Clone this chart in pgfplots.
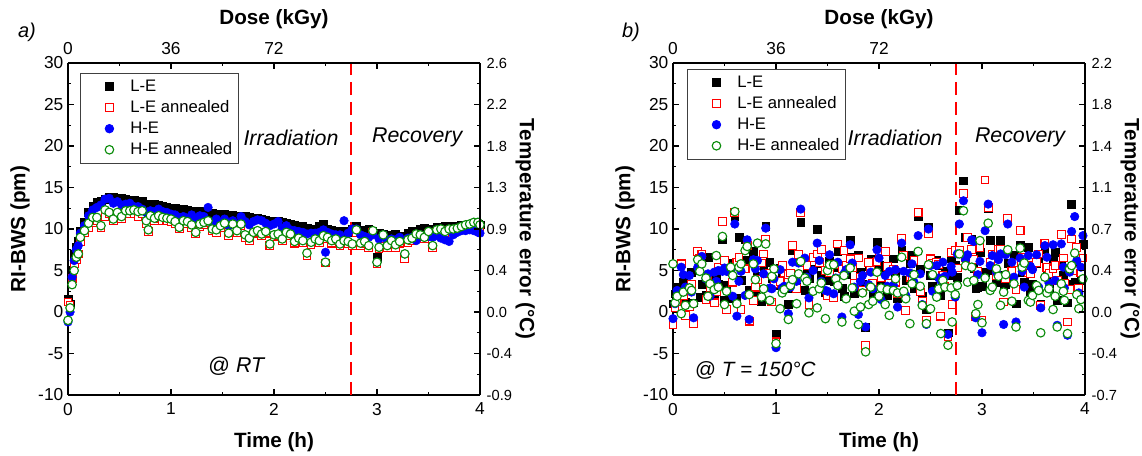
\documentclass[border=0pt]{standalone}
\usepackage{fontspec}
\setmainfont{Liberation Sans}
\usepackage{pgfplots}
\usepackage{pgfplotstable}
\pgfplotsset{compat=1.18}

\definecolor{hegreen}{RGB}{10,140,10}
\definecolor{lered}{RGB}{255,0,0}

% panel a: room temperature
\pgfplotstableread{
t LE LEa HE HEa
0.00 1.5 1.2 -1.2 -1.0
0.02 1.0 0.8 0.0 0.5
0.04 5.0 4.0 4.2 3.3
0.06 7.0 5.8 6.2 5.0
0.08 7.8 6.3 7.5 6.6
0.10 8.5 7.0 8.0 7.0
0.12 9.8 8.5 9.5 9.0
0.16 10.8 9.6 10.4 9.8
0.20 12.0 10.2 11.6 10.7
0.24 12.8 10.8 12.3 11.4
0.28 13.2 11.0 12.6 11.4
0.32 13.4 10.2 12.9 10.4
0.36 13.6 11.5 13.6 12.3
0.40 13.8 11.8 13.7 12.0
0.44 13.8 11.0 13.1 11.2
0.48 13.7 11.8 13.3 12.0
0.52 13.7 11.2 12.9 11.5
0.56 13.6 11.9 13.0 12.2
0.60 13.5 11.9 13.1 12.2
0.64 13.5 11.8 12.7 12.3
0.68 13.4 11.5 12.7 12.1
0.72 13.3 11.8 12.4 12.2
0.76 13.0 10.6 12.0 11.0
0.78 12.8 9.7 11.6 9.9
0.80 13.0 11.4 12.2 11.6
0.84 13.0 11.0 12.1 11.3
0.88 12.9 11.3 12.4 11.6
0.92 12.8 11.0 12.1 11.4
0.96 12.6 11.0 12.0 11.3
1.00 12.5 10.9 11.8 11.2
1.04 12.5 10.6 11.7 10.9
1.08 12.4 10.0 11.4 10.2
1.12 12.4 10.8 11.5 11.0
1.16 12.3 10.7 11.2 10.9
1.20 12.2 10.2 11.7 10.5
1.24 12.1 9.4 11.3 9.6
1.28 12.1 10.3 11.6 10.6
1.32 12.0 10.5 11.5 10.8
1.36 11.9 10.8 12.6 11.0
1.40 11.9 9.8 10.7 10.0
1.44 11.8 9.6 11.2 9.9
1.48 11.8 10.2 10.8 10.4
1.52 11.8 10.5 11.2 10.7
1.56 11.7 9.2 10.4 9.5
1.60 11.7 10.3 11.0 10.6
1.64 11.6 9.6 10.6 9.8
1.68 11.6 10.4 11.5 10.6
1.72 11.5 9.0 10.9 9.3
1.76 11.4 8.6 10.5 8.9
1.80 11.3 9.4 10.9 9.6
1.84 11.3 9.6 11.1 9.8
1.88 11.2 9.2 11.0 9.4
1.92 11.1 9.5 10.7 9.7
1.96 11.0 8.0 10.4 8.2
2.00 11.0 9.1 10.6 9.3
2.04 10.9 9.2 10.9 9.4
2.08 10.8 8.6 10.1 8.8
2.12 10.7 9.4 10.4 9.6
2.16 10.6 9.2 9.9 9.4
2.20 10.5 8.3 9.8 8.5
2.24 10.4 8.6 9.7 8.9
2.28 10.3 8.4 9.6 8.6
2.32 10.1 6.8 9.4 7.1
2.36 10.0 8.1 9.5 8.4
2.40 10.0 8.5 9.5 8.8
2.44 10.3 8.4 9.6 8.6
2.48 10.6 9.0 9.9 9.2
2.50 9.8 5.9 7.2 6.0
2.52 10.0 8.8 9.6 9.0
2.56 9.9 8.3 9.4 8.6
2.60 9.8 8.6 9.3 8.8
2.64 9.7 8.0 9.3 8.2
2.68 9.7 8.4 11.0 8.6
2.72 9.6 8.2 9.5 8.5
2.76 10.0 8.0 10.0 8.2
2.80 10.3 9.6 10.0 9.9
2.84 9.9 8.0 9.3 8.3
2.88 9.7 8.2 9.1 8.5
2.92 10.0 7.8 9.0 8.0
2.96 9.8 9.6 9.3 9.8
3.00 6.6 5.8 6.0 6.0
3.02 9.5 7.6 8.8 7.8
3.06 9.4 8.8 9.3 9.3
3.10 9.2 7.8 8.6 8.0
3.14 9.3 8.3 8.8 8.6
3.18 9.4 7.8 8.7 8.1
3.22 9.2 8.3 9.0 8.5
3.27 8.8 6.4 7.0 7.0
3.30 9.5 8.4 8.9 8.7
3.34 9.7 8.6 9.0 8.9
3.38 9.8 9.2 8.6 9.4
3.42 10.0 9.0 9.3 9.3
3.46 10.1 8.8 9.2 9.0
3.50 10.0 9.5 9.1 9.7
3.54 10.0 7.8 9.0 8.0
3.58 10.2 9.6 9.2 9.9
3.62 10.2 9.8 8.9 10.0
3.66 10.3 9.5 8.7 9.7
3.70 10.3 9.8 8.5 10.0
3.74 10.4 9.8 9.3 10.0
3.78 10.4 9.9 9.6 10.1
3.82 10.5 10.1 9.8 10.3
3.86 10.5 10.2 9.8 10.5
3.90 10.6 10.4 9.9 10.6
3.94 10.6 10.6 9.8 10.8
3.98 10.6 10.5 9.6 10.8
4.00 10.5 10.3 9.5 10.5
}\tabRT

% panel b: T = 150 C
\pgfplotstableread{
t LE LEa HE HEa
0.00 1.0 -1.5 -0.8 5.8
0.02 2.2 0.5 1.0 1.1
0.04 3.0 1.2 2.6 1.9
0.08 2.4 5.8 5.4 -0.2
0.10 3.6 2.0 4.5 2.4
0.12 1.2 -0.4 3.0 0.8
0.16 2.9 0.6 4.4 2.9
0.18 4.8 3.3 2.4 2.6
0.20 1.1 -1.4 -0.7 1.0
0.24 5.0 7.3 5.4 6.3
0.26 1.8 6.4 6.0 4.9
0.28 3.3 6.9 6.7 5.8
0.32 2.0 1.5 4.0 4.1
0.34 6.6 4.4 4.6 1.9
0.36 3.4 2.9 1.9 3.4
0.40 2.1 1.1 4.8 2.7
0.42 4.2 2.5 3.7 6.8
0.44 3.3 5.4 5.0 3.0
0.48 8.7 10.9 4.9 9.1
0.50 1.4 6.2 5.3 0.9
0.52 3.2 0.3 4.9 2.5
0.56 1.6 4.9 5.1 5.4
0.58 5.9 3.6 1.9 4.4
0.60 11.5 12.0 10.6 12.1
0.62 1.7 6.0 -0.5 1.0
0.64 9.0 6.6 3.7 5.4
0.66 3.8 0.3 4.9 5.8
0.70 8.7 5.2 2.0 7.4
0.72 6.2 8.0 8.7 7.9
0.74 2.6 -1.1 -0.9 2.1
0.78 7.3 1.4 6.3 5.8
0.80 2.2 3.0 5.2 3.9
0.82 4.3 3.9 6.2 8.3
0.86 1.3 5.9 1.8 1.8
0.88 5.4 7.0 4.6 2.8
0.90 10.3 8.7 10.1 8.2
0.94 6.0 4.6 2.9 1.4
0.96 4.0 1.2 2.8 4.3
0.98 3.2 3.4 4.0 5.2
1.00 -2.7 -3.6 -4.3 -3.8
1.04 5.3 3.7 5.1 0.4
1.06 4.5 5.6 2.9 2.3
1.08 2.9 4.7 3.1 2.7
1.12 0.9 4.5 -0.2 -0.9
1.14 2.8 4.7 3.0 3.2
1.16 7.4 8.0 6.0 3.9
1.20 3.0 2.8 3.7 1.0
1.22 6.4 6.9 5.9 4.6
1.24 10.8 12.0 12.4 6.1
1.28 2.6 6.0 6.5 4.1
1.30 4.7 5.6 4.2 3.7
1.32 4.0 0.9 1.7 -0.1
1.36 5.2 6.6 5.0 2.5
1.40 10.0 7.0 8.3 0.5
1.42 5.9 6.0 6.2 2.8
1.44 4.4 7.5 3.7 3.5
1.48 2.4 5.0 2.6 -0.8
1.50 3.8 2.0 2.5 5.0
1.52 6.1 4.8 6.9 5.7
1.56 3.7 1.7 2.2 5.7
1.58 5.4 5.7 4.1 4.0
1.60 7.3 8.2 6.0 3.2
1.64 2.9 5.2 -0.6 -1.2
1.66 1.9 7.4 4.6 4.4
1.68 4.5 5.6 5.1 1.6
1.72 8.6 6.4 8.1 5.3
1.74 6.6 5.4 5.9 2.9
1.76 2.3 3.5 3.0 0.1
1.80 6.9 6.5 -0.3 -1.5
1.82 4.8 4.2 3.7 0.6
1.84 3.4 2.6 4.4 2.3
1.87 -1.8 -4.0 -1.8 -4.8
1.90 5.5 6.0 3.3 0.9
1.92 6.4 5.0 4.8 3.0
1.94 2.2 3.4 2.8 1.3
1.98 8.4 6.1 7.5 4.8
2.00 5.7 7.1 6.5 1.9
2.02 3.6 4.1 1.5 2.9
2.06 5.1 7.3 4.4 0.9
2.08 2.0 5.5 3.1 2.7
2.10 2.7 3.4 4.9 -0.4
2.14 6.4 5.1 3.2 2.6
2.16 4.8 3.6 5.1 4.0
2.18 1.6 2.2 0.6 2.3
2.22 7.5 8.9 8.3 6.6
2.24 1.8 6.8 4.9 2.5
2.26 3.8 0.2 2.0 1.6
2.30 5.9 4.2 4.7 -1.4
2.32 6.9 4.3 5.8 3.4
2.34 2.9 6.2 3.6 4.5
2.38 11.5 12.0 9.2 7.3
2.40 5.2 2.4 4.6 3.1
2.42 1.9 1.3 0.9 0.8
2.46 0.3 -1.0 -1.5 -1.4
2.48 10.2 9.4 10.0 5.7
2.50 4.4 6.4 5.6 0.4
2.52 3.1 5.9 2.5 4.5
2.56 6.3 6.0 5.6 1.8
2.58 5.6 5.7 4.1 2.8
2.60 2.0 -0.5 3.8 -2.6
2.62 3.8 4.4 6.0 3.8
2.64 4.9 3.1 4.3 3.0
2.67 -2.5 -3.0 -2.7 -4.0
2.70 6.5 7.2 5.5 2.9
2.71 4.4 0.9 4.8 -1.2
2.74 5.6 7.4 1.8 2.1
2.76 4.2 5.3 7.0 3.2
2.78 12.3 7.4 10.6 7.0
2.82 15.8 14.3 13.4 12.2
2.84 9.0 6.6 6.3 5.6
2.86 6.3 9.0 6.9 3.6
2.90 8.8 7.5 8.7 5.4
2.92 5.3 6.3 8.5 3.8
2.94 2.8 -0.5 -0.7 -0.2
2.96 3.0 4.9 4.5 0.9
2.98 7.2 7.8 6.1 8.6
3.00 3.1 -1.0 -2.5 -1.3
3.03 4.8 15.9 9.8 4.1
3.06 12.5 12.6 13.0 10.7
3.08 8.6 6.0 5.6 2.6
3.10 5.0 7.0 6.8 3.0
3.14 3.6 4.4 4.8 5.2
3.16 4.4 7.5 6.3 4.3
3.18 8.6 7.6 7.0 0.8
3.21 3.2 1.2 -1.5 2.4
3.23 3.3 4.0 6.9 4.5
3.25 5.9 11.3 10.6 7.5
3.29 3.7 4.9 6.0 1.3
3.31 6.8 5.9 4.2 3.4
3.33 1.0 2.7 -1.2 -1.8
3.37 8.0 9.8 6.5 7.7
3.39 4.8 6.6 4.9 5.4
3.41 3.6 5.0 3.0 5.9
3.45 7.8 4.7 6.8 1.4
3.47 2.5 4.6 5.5 1.2
3.49 3.4 5.6 5.1 2.0
3.53 5.8 6.0 6.9 3.2
3.55 6.5 7.0 3.0 2.6
3.57 1.0 0.8 0.5 -2.5
3.61 7.6 8.3 8.0 4.2
3.63 4.4 5.4 6.6 2.3
3.65 2.8 4.6 3.5 2.8
3.69 6.4 5.2 8.1 0.3
3.71 7.2 5.6 3.8 1.9
3.73 1.4 3.8 -1.6 -1.8
3.77 5.6 9.3 8.2 3.4
3.79 4.5 6.5 5.4 2.5
3.80 3.0 3.4 2.9 1.4
3.83 1.1 -1.2 -2.8 -2.6
3.85 3.3 2.7 4.8 5.2
3.87 13.0 8.8 9.7 5.6
3.90 3.6 5.0 11.5 7.1
3.92 6.0 7.8 6.2 2.1
3.94 2.2 2.9 2.3 0.4
3.96 3.8 4.7 5.4 1.5
3.98 8.2 6.5 9.2 4.0
}\tabHT

\tikzset{
  divider/.style={lered, line width=1.8pt, dash pattern=on 10pt off 5pt},
  phase/.style={font=\itshape\fontsize{16}{19}\selectfont},
}
\pgfplotsset{
  panel/.style={
    scale only axis, width=309pt, height=249pt,
    ymin=-10, ymax=30,
    ytick={-10,-5,...,30}, minor y tick num=1,
    tick align=inside,
    major tick length=4.5pt, minor tick length=2.5pt,
    tick style={black, line width=0.8pt},
    axis line style={-, line width=1pt},
    ticklabel style={font=\fontsize{13}{15}\selectfont},
    /pgf/number format/assume math mode=true,
    label style={font=\bfseries\fontsize{15.5}{18}\selectfont, anchor=center},
  },
  mainaxis/.style={
    panel,
    xmin=0, xmax=4, xtick={0,1,2,3,4}, minor x tick num=1,
    axis x line*=bottom, axis y line*=left,
    xticklabel style={yshift=-2.5pt},
    xlabel={Time (h)}, ylabel={RI-BWS (pm)},
    xlabel style={at={(axis description cs:0.5,-0.1416)}},
    ylabel style={at={(axis description cs:-0.1165,0.5)}},
    legend cell align=left,
    legend style={draw=black!75, line width=0.6pt,
      font=\fontsize{12.5}{15}\selectfont,
      nodes={text height=9.5pt, text depth=2.5pt, inner sep=1.9pt}},
  },
  doseaxis/.style={
    panel,
    xmin=0, xmax=144, xtick={0,36,72,108,144}, xticklabels={0,36,72,{},{}},
    minor x tick num=1,
    axis x line*=top, axis y line*=right,
    xticklabel style={yshift=2.5pt},
    yticklabel style={font=\fontsize{11}{13}\selectfont, xshift=1.5pt},
    xlabel={Dose (kGy)}, ylabel={Temperature error (°C)},
    xlabel style={at={(axis description cs:0.5,1.1325)}},
    ylabel style={at={(axis description cs:1.11,0.5)}, rotate=180},
  },
  limg/.style={legend image code/.code={%
    \path (0pt,0pt) (32pt,0pt);
    \draw[##1] plot coordinates {(18.5pt,0pt)};}},
  pLE/.style={only marks, mark=square*, mark size=2.9pt, black, limg},
  pLEa/.style={only marks, mark=square*, mark size=2.9pt, lered,
    mark options={draw=lered, fill=white, line width=0.8pt}, limg},
  pHE/.style={only marks, mark=*, mark size=3.2pt, blue, limg},
  pHEa/.style={only marks, mark=*, mark size=3.2pt, hegreen,
    mark options={draw=hegreen, fill=white, line width=0.85pt}, limg},
}

\begin{document}
\begin{tikzpicture}
\useasboundingbox (0,0) rectangle (856.5pt,341.25pt);

% ---- a) room temperature
\begin{axis}[mainaxis, at={(51pt,45pt)}, anchor=south west,
  legend style={at={(0.029,0.97)}, anchor=north west}]
\addplot[pLE] table[x=t, y=LE] {\tabRT};
\addlegendentry{L-E}
\addplot[pLEa] table[x=t, y=LEa] {\tabRT};
\addlegendentry{L-E annealed}
\addplot[pHE] table[x=t, y=HE] {\tabRT};
\addlegendentry{H-E}
\addplot[pHEa] table[x=t, y=HEa] {\tabRT};
\addlegendentry{H-E annealed}
\addplot[divider, forget plot] coordinates {(2.75,-10) (2.75,30)};
\node[phase] at (axis cs:2.165,21) {Irradiation};
\node[phase] at (axis cs:3.39,21) {Recovery};
\node[font=\fontsize{16}{19}\selectfont] at (axis cs:1.64,-6.5) {@ \textit{RT}};
\end{axis}
\begin{axis}[doseaxis, at={(51pt,45pt)}, anchor=south west,
  yticklabels={-0.9,-0.4,0.0,0.4,0.9,1.3,1.8,2.2,2.6}]
\end{axis}

% ---- b) T = 150 C
\begin{axis}[mainaxis, at={(504.75pt,45pt)}, anchor=south west,
  legend style={at={(0.034,0.982)}, anchor=north west}]
\addplot[pLE] table[x=t, y=LE] {\tabHT};
\addlegendentry{L-E}
\addplot[pLEa] table[x=t, y=LEa] {\tabHT};
\addlegendentry{L-E annealed}
\addplot[pHE] table[x=t, y=HE] {\tabHT};
\addlegendentry{H-E}
\addplot[pHEa] table[x=t, y=HEa] {\tabHT};
\addlegendentry{H-E annealed}
\addplot[divider, forget plot] coordinates {(2.75,-10) (2.75,30)};
\node[phase] at (axis cs:2.157,21) {Irradiation};
\node[phase] at (axis cs:3.37,21) {Recovery};
\node[font=\fontsize{15.5}{19}\selectfont] at (axis cs:0.8,-7.1) {@ \textit{T = 150°C}};
\end{axis}
\begin{axis}[doseaxis, at={(504.75pt,45pt)}, anchor=south west,
  yticklabels={-0.7,-0.4,0.0,0.4,0.7,1.1,1.4,1.8,2.2}]
\end{axis}

\node[font=\itshape\fontsize{15}{18}\selectfont] at (20.25pt,317.25pt) {a)};
\node[font=\itshape\fontsize{15}{18}\selectfont] at (473.25pt,317.25pt) {b)};
\end{tikzpicture}
\end{document}
